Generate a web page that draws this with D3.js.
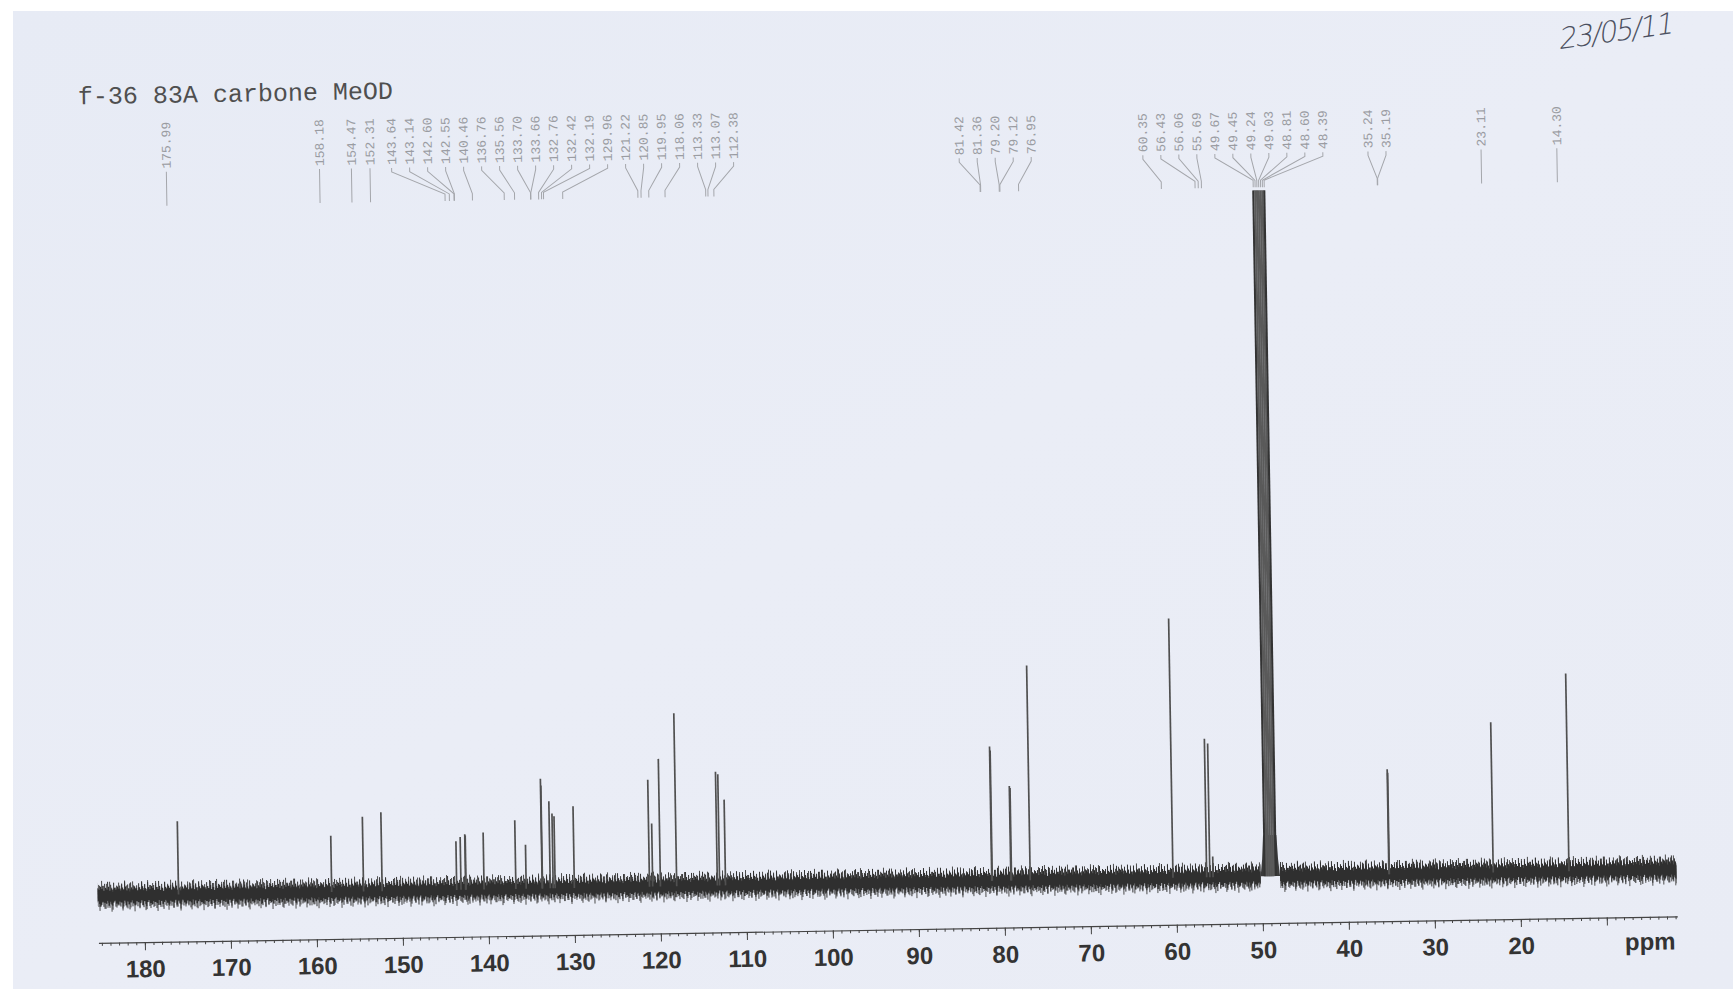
<!DOCTYPE html>
<html>
<head>
<meta charset="utf-8">
<script src="https://cdn.jsdelivr.net/npm/d3@7/dist/d3.min.js"></script>
<style>
  html, body { margin: 0; padding: 0; background: #fff; overflow: hidden; }
  .axis .domain { stroke: #444; stroke-width: 1.2; }
  .axis line { stroke: #444; stroke-width: 1; }
</style>
</head>
<body>
<div class="root"></div>
<script>
// ---- data ----
var title = "f-36 83A carbone MeOD";
var dateNote = "23/05/11";
var axisUnit = "ppm";

var peakPpm = [175.99, 158.18, 154.47, 152.31, 143.64, 143.14, 142.60, 142.55, 140.46,
  136.76, 135.56, 133.70, 133.66, 132.76, 132.42, 132.19, 129.96, 121.22, 120.85,
  119.95, 118.06, 113.33, 113.07, 112.38, 81.42, 81.36, 79.20, 79.12, 76.95,
  60.35, 56.43, 56.06, 55.69, 49.67, 49.45, 49.24, 49.03, 48.81, 48.60, 48.39,
  35.24, 35.19, 23.11, 14.30];

// peak heights, solvent (MeOD) multiplet = 100 (clipped)
var peakHeight = [10.7, 8.2, 10.9, 11.5, 7.1, 7.7, 8.1, 7.9, 8.3,
  10.0, 6.4, 16.0, 15.0, 12.7, 10.9, 10.5, 11.9, 15.6, 9.2,
  18.6, 25.2, 16.6, 16.2, 12.5, 19.6, 19.0, 13.8, 13.5, 31.3,
  37.8, 20.2, 19.5, 3.0, 100, 100, 100, 100, 100, 100, 100,
  15.3, 14.8, 21.9, 28.8];

var solventPpm = [49.67, 49.45, 49.24, 49.03, 48.81, 48.60, 48.39];
var solventFoot = [[50.15, 0], [49.95, 2.5], [49.8, 6], [48.25, 6], [48.1, 2.5], [47.9, 0]];

var majorTicks = [180, 170, 160, 150, 140, 130, 120, 110, 100, 90, 80, 70, 60, 50, 40, 30, 20, 10];
var ppmDomain = [185.4, 1.8];

// ---- layout ----
var width = 1733, height = 994;
var axisY = 930, baseY = 883, topY = 197;
var tilt = -0.966; // scanned page is slightly rotated

// noise texture tiles (style only)
var noiseUpA = [7, 10, 5, 12, 8, 6, 14, 9, 5, 11, 7, 4, 13, 8, 6, 10, 9];
var noiseDnA = [9, 6, 11, 7, 13, 8, 5, 10, 12, 6, 9, 14, 7, 5, 11, 8, 10];
var noiseUpB = [4, 8, 6, 3, 13, 5, 7, 11, 4, 6, 15, 5, 10, 3, 7, 12, 6, 4, 14, 5, 8, 6, 7];
var noiseDnB = [6, 4, 12, 7, 5, 10, 6, 4, 15, 11, 5, 7, 4, 13, 6, 5, 12, 7, 4, 8, 16, 10, 5];

var svg = d3.select('.root')
            .append('svg')
            .attr("width", width)
            .attr("height", height);

var defs = svg.append('defs');

function makeNoise(id, up, dn, color) {
  var w = up.length;
  var p = defs.append('pattern')
              .attr("id", id)
              .attr("patternUnits", "userSpaceOnUse")
              .attr("x", 0)
              .attr("y", baseY - 20)
              .attr("width", w)
              .attr("height", 40);
  var d = up.map(function (u, i) {
    return "M" + (i + 0.5) + "," + (20 - u) + "V" + (20 + dn[i]);
  }).join("");
  p.append('path').attr("d", d).attr("stroke", color).attr("stroke-width", 1);
}
makeNoise("noiseA", noiseUpA, noiseDnA, "#2f2f2f");
makeNoise("noiseB", noiseUpB, noiseDnB, "#4a4a4a");

var grad = defs.append('linearGradient').attr("id", "paper")
               .attr("x1", 0).attr("y1", 0).attr("x2", 1).attr("y2", 1);
grad.append('stop').attr("offset", 0).attr("stop-color", "#e7ebf5");
grad.append('stop').attr("offset", 0.5).attr("stop-color", "#eaedf6");
grad.append('stop').attr("offset", 1).attr("stop-color", "#e9ecf5");

svg.append('rect')
   .attr("x", 13).attr("y", 11)
   .attr("width", width - 13).attr("height", 978)
   .attr("fill", "url(#paper)");

var plot = svg.append('g')
              .attr("transform", "rotate(" + tilt + ",866," + axisY + ")");

var x = d3.scaleLinear().domain(ppmDomain).range([98.3, 1677.4]);
var y = d3.scaleLinear().domain([0, 100]).range([baseY, topY]);

// title
plot.append('text')
    .attr("x", 92).attr("y", 91)
    .attr("font-family", "'Liberation Mono', monospace")
    .attr("font-size", 25)
    .attr("fill", "#4f4f4f")
    .text(title);

// handwritten date
plot.append('text')
    .attr("transform", "translate(1630,54) rotate(-7) skewX(-14)")
    .attr("text-anchor", "middle")
    .attr("font-family", "'DejaVu Sans', sans-serif")
    .attr("font-size", 29)
    .attr("font-weight", 300)
    .attr("fill", "#4c5060")
    .attr("letter-spacing", -2)
    .text(dateNote);

// baseline noise band (interrupted under the solvent multiplet)
var noiseSegs = [[ppmDomain[0], solventFoot[0][0]], [solventFoot[solventFoot.length - 1][0], ppmDomain[1]]];
["noiseB", "noiseA"].forEach(function (pid) {
  plot.append('g').selectAll('rect')
      .data(noiseSegs)
      .enter()
      .append('rect')
      .attr("x", function (d) { return x(d[0]); })
      .attr("width", function (d) { return x(d[1]) - x(d[0]); })
      .attr("y", baseY - 20)
      .attr("height", 40)
      .attr("fill", "url(#" + pid + ")");
});

// solvent foot
plot.append('path')
    .datum(solventFoot)
    .attr("d", d3.area()
                 .x(function (d) { return x(d[0]); })
                 .y0(y(0))
                 .y1(function (d) { return y(d[1]); }))
    .attr("fill", "#3a3a3a");

// peaks
var peaks = peakPpm.map(function (p, i) { return {ppm: p, h: peakHeight[i]}; });

function isSolvent(d) { return solventPpm.indexOf(d.ppm) >= 0; }

plot.append('g')
    .selectAll('line')
    .data(peaks)
    .enter()
    .append('line')
    .attr("x1", function (d) { return x(d.ppm); })
    .attr("x2", function (d) { return x(d.ppm); })
    .attr("y1", y(0))
    .attr("y2", function (d) { return y(d.h); })
    .attr("stroke", function (d, i) {
      if (!isSolvent(d)) return "#505050";
      return (d.ppm === 49.67 || d.ppm === 48.39) ? "#333" : "#5a5a5a";
    })
    .attr("stroke-width", function (d) { return isSolvent(d) ? 2.1 : 1.7; });

// peak labels: spread crowded labels around the mean of their peaks
function spreadLabels(xs, gap) {
  var groups = xs.map(function (v, i) { return {idx: [i], sum: v}; });
  function left(g) { return g.sum / g.idx.length - (g.idx.length - 1) * gap / 2; }
  function right(g) { return g.sum / g.idx.length + (g.idx.length - 1) * gap / 2; }
  var merged = true;
  while (merged) {
    merged = false;
    for (var i = 0; i < groups.length - 1; i++) {
      if (left(groups[i + 1]) - right(groups[i]) < gap) {
        groups[i] = {idx: groups[i].idx.concat(groups[i + 1].idx), sum: groups[i].sum + groups[i + 1].sum};
        groups.splice(i + 1, 1);
        merged = true;
        break;
      }
    }
  }
  var out = [];
  groups.forEach(function (g) {
    var l = left(g);
    g.idx.forEach(function (k, j) { out[k] = l + j * gap; });
  });
  return out;
}

var peakX = peaks.map(function (d) { return x(d.ppm); });
var labelX = spreadLabels(peakX, 18);

var labelBottom = 157;
var labels = plot.append('g');

labels.selectAll('path')
      .data(peaks)
      .enter()
      .append('path')
      .attr("d", function (d, i) {
        return "M" + labelX[i] + "," + (labelBottom + 3) +
               "V" + (labelBottom + 7) +
               "L" + peakX[i] + "," + (labelBottom + 30) +
               "V" + (labelBottom + 37);
      })
      .attr("fill", "none")
      .attr("stroke", "#a4a6ab")
      .attr("stroke-width", 1);

labels.selectAll('text')
      .data(peaks)
      .enter()
      .append('text')
      .attr("transform", function (d, i) { return "translate(" + labelX[i] + "," + labelBottom + ") rotate(-90)"; })
      .attr("dy", "0.35em")
      .attr("font-family", "'Liberation Mono', monospace")
      .attr("font-size", 13)
      .attr("fill", "#9a9ca2")
      .text(function (d) { return d3.format(".2f")(d.ppm); });

// ppm axis
var axisG = plot.append('g')
                .attr("class", "axis")
                .attr("transform", "translate(0," + axisY + ")");

axisG.call(d3.axisBottom(x)
             .tickValues(d3.range(2, 186))
             .tickSize(3)
             .tickSizeOuter(0)
             .tickFormat(""));

var majorG = axisG.append('g')
                  .call(d3.axisBottom(x)
                          .tickValues(majorTicks)
                          .tickSize(8)
                          .tickSizeOuter(0)
                          .tickFormat(function (d) { return d === 10 ? "" : d; }));
majorG.select('.domain').remove();
majorG.selectAll('text')
      .attr("y", 35)
      .attr("dy", 0)
      .attr("fill", "#333")
      .attr("font-family", "'Liberation Sans', Arial, sans-serif")
      .attr("font-weight", "bold")
      .attr("font-size", 24);

axisG.append('text')
     .attr("x", x(5))
     .attr("y", 33)
     .attr("text-anchor", "middle")
     .attr("fill", "#333")
     .attr("font-family", "'Liberation Sans', Arial, sans-serif")
     .attr("font-weight", "bold")
     .attr("font-size", 24)
     .text(axisUnit);
</script>
</body>
</html>
